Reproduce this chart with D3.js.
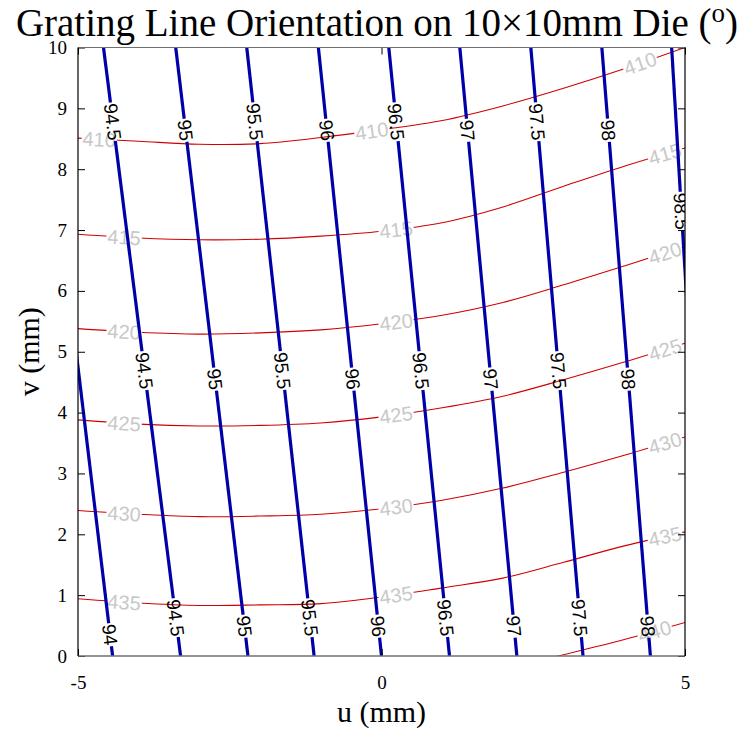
<!DOCTYPE html>
<html>
<head>
<meta charset="utf-8">
<script src="https://cdn.jsdelivr.net/npm/d3@7"></script>
<style>
  body { margin: 0; background: #fff; }
  svg { display: block; }
</style>
</head>
<body>
<script>
// ---------------- DATA ----------------
// Orientation contours (degrees): u (mm) at v=10 (top) and at v=0 (bottom)
const orientLevels  = [94, 94.5, 95, 95.5, 96, 96.5, 97, 97.5, 98, 98.5];
const orientUTop    = [-5.63, -4.58, -3.39, -2.22, -1.04, 0.12, 1.29, 2.46, 3.63, 4.78];
const orientUBottom = [-4.43, -3.31, -2.20, -1.11, 0.00, 1.12, 2.23, 3.32, 4.43, 5.38];
// label centre positions (v, mm) along each orientation contour
const orientLabelV  = [
  [0.35],
  [8.78, 4.69, 0.63],
  [8.64, 4.55, 0.49],
  [8.78, 4.69, 0.63],
  [8.64, 4.55, 0.49],
  [8.78, 4.69, 0.63],
  [8.64, 4.55, 0.49],
  [8.78, 4.69, 0.63],
  [8.64, 4.55, 0.49],
  [7.31]
];

// Period contours (nm): v (mm) sampled at u = -5..5
const periodLevels = [410, 415, 420, 425, 430, 435, 440];
const periodU = [-5, -4, -3, -2, -1, 0, 1, 2, 3, 4, 5];
const periodV = [
  [8.51, 8.46, 8.41, 8.42, 8.52, 8.65, 8.80, 9.04, 9.33, 9.65, 10.0],
  [6.93, 6.87, 6.84, 6.85, 6.90, 6.98, 7.12, 7.38, 7.72, 8.05, 8.35],
  [5.38, 5.32, 5.29, 5.31, 5.36, 5.46, 5.60, 5.81, 6.10, 6.41, 6.73],
  [3.88, 3.81, 3.78, 3.79, 3.83, 3.93, 4.08, 4.27, 4.54, 4.83, 5.14],
  [2.39, 2.33, 2.29, 2.30, 2.33, 2.42, 2.56, 2.76, 3.02, 3.30, 3.60],
  [0.94, 0.87, 0.83, 0.84, 0.86, 0.97, 1.12, 1.28, 1.54, 1.81, 2.04],
  [-0.56, -0.63, -0.67, -0.66, -0.64, -0.53, -0.38, -0.22, 0.02, 0.27, 0.55]
];
// label centre positions (u, mm) along each period contour
const periodLabelU = [
  [-4.65, -0.16, 4.26],
  [-4.24, 0.24, 4.67],
  [-4.24, 0.24, 4.67],
  [-4.24, 0.24, 4.67],
  [-4.24, 0.24, 4.67],
  [-4.24, 0.24, 4.67],
  [4.50]
];

const xTicks = [-5, 0, 5];
const yTicks = [0, 1, 2, 3, 4, 5, 6, 7, 8, 9, 10];

// ---------------- LAYOUT ----------------
const W = 752, H = 731;
const L = 78, R = 685, T = 47.5, B = 656;
const serif = "'Liberation Serif', 'Times New Roman', serif";
const sans = "'Liberation Sans', Arial, sans-serif";

const x = d3.scaleLinear().domain([-5, 5]).range([L, R]);
const y = d3.scaleLinear().domain([0, 10]).range([B, T]);

const svg = d3.select("body").append("svg").attr("width", W).attr("height", H);
const defs = svg.append("defs");
defs.append("clipPath").attr("id", "clip")
  .append("rect").attr("x", L).attr("y", T).attr("width", R - L).attr("height", B - T);

const redMask = defs.append("mask").attr("id", "redMask")
  .attr("maskUnits", "userSpaceOnUse").attr("x", 0).attr("y", 0).attr("width", W).attr("height", H);
redMask.append("rect").attr("width", W).attr("height", H).attr("fill", "#fff");
const blueMask = defs.append("mask").attr("id", "blueMask")
  .attr("maskUnits", "userSpaceOnUse").attr("x", 0).attr("y", 0).attr("width", W).attr("height", H);
blueMask.append("rect").attr("width", W).attr("height", H).attr("fill", "#fff");

const plot = svg.append("g").attr("clip-path", "url(#clip)");

// ---------------- PERIOD CONTOURS (red) ----------------
const redLines = plot.append("g").attr("mask", "url(#redMask)");
const redLabels = plot.append("g");
const curve = d3.line().x(d => x(d[0])).y(d => y(d[1])).curve(d3.curveCatmullRom.alpha(0.5));

periodLevels.forEach((lev, i) => {
  const pts = periodU.map((u, j) => [u, periodV[i][j]]);
  const path = redLines.append("path")
    .attr("d", curve(pts))
    .attr("fill", "none")
    .attr("stroke", "#d00000")
    .attr("stroke-width", 1.1);
  const node = path.node();
  const total = node.getTotalLength();
  periodLabelU[i].forEach(u => {
    const tx = x(u);
    let lo = 0, hi = total;
    for (let k = 0; k < 40; k++) {
      const mid = (lo + hi) / 2;
      if (node.getPointAtLength(mid).x < tx) lo = mid; else hi = mid;
    }
    const l = (lo + hi) / 2;
    const p = node.getPointAtLength(l);
    const p1 = node.getPointAtLength(Math.max(0, l - 3));
    const p2 = node.getPointAtLength(Math.min(total, l + 3));
    const ang = Math.atan2(p2.y - p1.y, p2.x - p1.x) * 180 / Math.PI;
    const t = redLabels.append("text")
      .attr("transform", `translate(${p.x},${p.y}) rotate(${ang})`)
      .attr("text-anchor", "middle")
      .attr("dy", "0.36em")
      .attr("font-family", sans)
      .attr("font-size", 20)
      .attr("fill", "#c8c8c8")
      .text(lev);
    const w = t.node().getComputedTextLength();
    redMask.append("rect")
      .attr("transform", `translate(${p.x},${p.y}) rotate(${ang})`)
      .attr("x", -w / 2 - 1).attr("y", -8).attr("width", w + 2).attr("height", 16)
      .attr("fill", "#000");
  });
});

// ---------------- ORIENTATION CONTOURS (blue) ----------------
const blueLines = plot.append("g").attr("mask", "url(#blueMask)");
const blueLabels = plot.append("g");
const straight = d3.line().x(d => x(d[0])).y(d => y(d[1]));

orientLevels.forEach((lev, i) => {
  const pts = [[orientUBottom[i], 0], [orientUTop[i], 10]];
  blueLines.append("path")
    .attr("d", straight(pts))
    .attr("fill", "none")
    .attr("stroke", "#0000a8")
    .attr("stroke-width", 3.2);
  const dx = x(orientUBottom[i]) - x(orientUTop[i]);
  const dy = y(0) - y(10);
  const ang = Math.atan2(dy, dx) * 180 / Math.PI;
  orientLabelV[i].forEach(v => {
    const u = orientUBottom[i] + (orientUTop[i] - orientUBottom[i]) * v / 10;
    const px = x(u), py = y(v);
    const t = blueLabels.append("text")
      .attr("transform", `translate(${px},${py}) rotate(${ang})`)
      .attr("text-anchor", "middle")
      .attr("dy", "0.36em")
      .attr("font-family", sans)
      .attr("font-size", 19)
      .attr("fill", "#000")
      .text(lev);
    const w = t.node().getComputedTextLength();
    blueMask.append("rect")
      .attr("transform", `translate(${px},${py}) rotate(${ang})`)
      .attr("x", -w / 2 - 1).attr("y", -8).attr("width", w + 2).attr("height", 16)
      .attr("fill", "#000");
  });
});

// ---------------- AXES ----------------
function styleAxis(g) {
  g.select(".domain").remove();
  g.selectAll("line").attr("stroke", "#000").attr("stroke-width", 1);
  g.selectAll("text").attr("font-family", serif).attr("font-size", 19).attr("fill", "#000");
}
svg.append("g").attr("transform", `translate(${L},0)`)
  .call(d3.axisLeft(y).tickValues(yTicks).tickSize(-7).tickPadding(11).tickFormat(d => String(d)))
  .call(styleAxis);
svg.append("g").attr("transform", `translate(${R},0)`)
  .call(d3.axisRight(y).tickValues(yTicks).tickSize(-7).tickFormat(""))
  .call(styleAxis);
svg.append("g").attr("transform", `translate(0,${B})`)
  .call(d3.axisBottom(x).tickValues(xTicks).tickSize(-7).tickPadding(20).tickFormat(d => String(d)))
  .call(styleAxis);
svg.append("g").attr("transform", `translate(0,${T})`)
  .call(d3.axisTop(x).tickValues(xTicks).tickSize(-7).tickFormat(""))
  .call(styleAxis);

// border
svg.append("line").attr("x1", L).attr("x2", R).attr("y1", T).attr("y2", T).attr("stroke", "#707070").attr("stroke-width", 1.2);
svg.append("line").attr("x1", L).attr("x2", R).attr("y1", B).attr("y2", B).attr("stroke", "#707070").attr("stroke-width", 1.5);
svg.append("line").attr("x1", L).attr("x2", L).attr("y1", T).attr("y2", B).attr("stroke", "#000").attr("stroke-width", 1.2);
svg.append("line").attr("x1", R).attr("x2", R).attr("y1", T).attr("y2", B).attr("stroke", "#000").attr("stroke-width", 1.2);

// ---------------- TITLES ----------------
const title = svg.append("text")
  .attr("x", 377).attr("y", 36)
  .attr("text-anchor", "middle")
  .attr("font-family", serif).attr("font-size", 39).attr("fill", "#000");
title.append("tspan").text("Grating Line Orientation on 10×10mm Die (");
title.append("tspan").attr("font-size", 27).attr("dy", -14).text("o");
title.append("tspan").attr("dy", 14).text(")");

svg.append("text")
  .attr("x", (L + R) / 2).attr("y", 722)
  .attr("text-anchor", "middle")
  .attr("font-family", serif).attr("font-size", 30).attr("fill", "#000")
  .text("u (mm)");
svg.append("text")
  .attr("transform", `translate(39,${(T + B) / 2}) rotate(-90)`)
  .attr("text-anchor", "middle")
  .attr("font-family", serif).attr("font-size", 30).attr("fill", "#000")
  .text("v (mm)");
</script>
</body>
</html>
